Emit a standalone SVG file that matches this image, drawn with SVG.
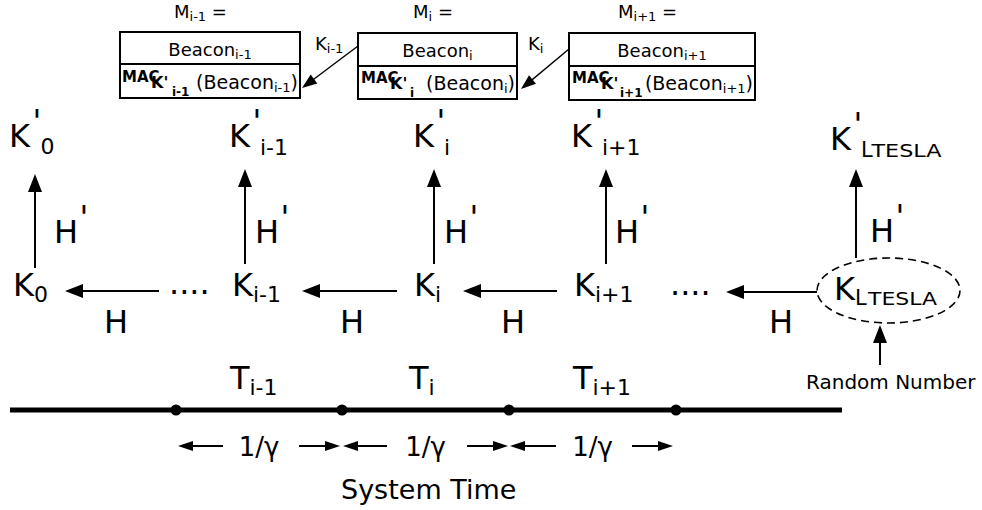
<svg xmlns="http://www.w3.org/2000/svg" width="982" height="510" viewBox="0 0 982 510">
<defs>
<style>
text{font-family:"DejaVu Sans","Liberation Sans",sans-serif;fill:#000}
.big{font-size:32px}
.sub{font-size:22px}
.med{font-size:18px}
.mb{font-size:19px}
.msub{font-size:13px}
.mac{font-weight:bold}
.box{fill:#fff;stroke:#000;stroke-width:2}
.div{stroke:#000;stroke-width:2}
.ln{stroke:#000;stroke-width:2;fill:none}
.thin{stroke:#000;stroke-width:1.4;fill:none}
.dash{fill:none;stroke:#000;stroke-width:1.6;stroke-dasharray:8 5}
</style>
<marker id="ah" markerUnits="userSpaceOnUse" markerWidth="18" markerHeight="14" refX="14" refY="7" orient="auto" overflow="visible"><path d="M0,0 L18,7 L0,14 Z" fill="#000"/></marker>
<marker id="am" markerUnits="userSpaceOnUse" markerWidth="15" markerHeight="11" refX="12" refY="5.5" orient="auto" overflow="visible"><path d="M0,0 L15,5.5 L0,11 Z" fill="#000"/></marker>
<marker id="as" markerUnits="userSpaceOnUse" markerWidth="15" markerHeight="10" refX="12" refY="5" orient="auto" overflow="visible"><path d="M0,0 L15,5 L0,10 Z" fill="#000"/></marker>
</defs>
<rect x="0" y="0" width="982" height="510" fill="#fff"/>

<!-- Message boxes -->
<g id="msg-prev">
<text class="med" x="174" y="18">M<tspan class="msub" dy="3">i-1</tspan><tspan dy="-3"> =</tspan></text>
<rect class="box" x="120" y="32" width="180" height="66"/>
<line class="div" x1="120" y1="64" x2="300" y2="64"/>
<text class="med" x="210" y="56" text-anchor="middle">Beacon<tspan class="msub" dy="3">i-1</tspan></text>
<text class="mac"><tspan x="122" y="82" style="font-size:15px">MAC</tspan><tspan x="151" y="88" style="font-size:16px">K'</tspan><tspan x="172" y="96" style="font-size:12px">i-1</tspan></text>
<text class="mb" x="298" y="89" text-anchor="end">(Beacon<tspan class="msub" dy="3">i-1</tspan><tspan dy="-3">)</tspan></text>
</g>
<g id="msg-cur">
<text class="med" x="413" y="18">M<tspan class="msub" dy="3">i</tspan><tspan dy="-3"> =</tspan></text>
<rect class="box" x="358" y="33" width="159" height="66"/>
<line class="div" x1="358" y1="66" x2="517" y2="66"/>
<text class="med" x="437.5" y="57" text-anchor="middle">Beacon<tspan class="msub" dy="3">i</tspan></text>
<text class="mac"><tspan x="361" y="83" style="font-size:15px">MAC</tspan><tspan x="390" y="89" style="font-size:16px">K'</tspan><tspan x="410" y="97" style="font-size:12px">i</tspan></text>
<text class="mb" x="515" y="90" text-anchor="end">(Beacon<tspan class="msub" dy="3">i</tspan><tspan dy="-3">)</tspan></text>
</g>
<g id="msg-next">
<text class="med" x="618" y="18">M<tspan class="msub" dy="3">i+1</tspan><tspan dy="-3"> =</tspan></text>
<rect class="box" x="569" y="33" width="186" height="67"/>
<line class="div" x1="569" y1="66" x2="755" y2="66"/>
<text class="med" x="662" y="57" text-anchor="middle">Beacon<tspan class="msub" dy="3">i+1</tspan></text>
<text class="mac"><tspan x="572" y="83" style="font-size:15px">MAC</tspan><tspan x="601" y="89" style="font-size:16px">K'</tspan><tspan x="620" y="97" style="font-size:12px">i+1</tspan></text>
<text class="mb" x="753" y="90" text-anchor="end">(Beacon<tspan class="msub" dy="3">i+1</tspan><tspan dy="-3">)</tspan></text>
</g>

<!-- Upper keys K' -->
<g id="kp-0"><text><tspan class="big" x="9" y="147">K</tspan><tspan class="big" x="32.6" y="131.5">'</tspan><tspan class="sub" x="40.5" y="154">0</tspan></text></g>
<g id="kp-im1"><text><tspan class="big" x="229" y="147">K</tspan><tspan class="big" x="252.6" y="131.5">'</tspan><tspan class="sub" x="260" y="155">i-1</tspan></text></g>
<g id="kp-i"><text><tspan class="big" x="413" y="147">K</tspan><tspan class="big" x="436.6" y="131.5">'</tspan><tspan class="sub" x="444" y="155">i</tspan></text></g>
<g id="kp-ip1"><text><tspan class="big" x="571" y="147">K</tspan><tspan class="big" x="594.6" y="131.5">'</tspan><tspan class="sub" x="602" y="155">i+1</tspan></text></g>
<g id="kp-L"><text><tspan class="big" x="830" y="150">K</tspan><tspan class="big" x="853.6" y="134.5">'</tspan><tspan style="font-size:21px" x="861" y="157">L</tspan><tspan style="font-size:17px" x="871.5" y="157" textLength="70" lengthAdjust="spacingAndGlyphs">TESLA</tspan></text></g>

<!-- Lower keys K -->
<g id="k-0"><text><tspan class="big" x="13" y="296">K</tspan><tspan class="sub" x="34" y="302">0</tspan></text></g>
<g id="dots-1"><text class="big" x="169" y="293.5">....</text></g>
<g id="k-im1"><text><tspan class="big" x="232" y="296">K</tspan><tspan class="sub" x="253" y="302">i-1</tspan></text></g>
<g id="k-i"><text><tspan class="big" x="414" y="296">K</tspan><tspan class="sub" x="435" y="302">i</tspan></text></g>
<g id="k-ip1"><text><tspan class="big" x="574" y="296">K</tspan><tspan class="sub" x="595" y="302">i+1</tspan></text></g>
<g id="dots-2"><text class="big" x="670" y="295">....</text></g>
<g id="k-L">
<ellipse class="dash" cx="888.5" cy="290.5" rx="71.5" ry="32.5"/>
<text><tspan class="big" x="834" y="300">K</tspan><tspan style="font-size:21px" x="855" y="305">L</tspan><tspan style="font-size:17px" x="868" y="305" textLength="69" lengthAdjust="spacingAndGlyphs">TESLA</tspan></text>
</g>
<g id="random"><text style="font-size:20px" x="806" y="389">Random Number</text></g>

<!-- Connectors -->
<g id="connectors">
<line class="thin" x1="358" y1="46" x2="304.4" y2="86.2" marker-end="url(#am)"/>
<line class="thin" x1="569" y1="49" x2="523.3" y2="87.1" marker-end="url(#am)"/>
<line class="ln" x1="35" y1="268" x2="35" y2="178" marker-end="url(#ah)"/>
<line class="ln" x1="245" y1="264" x2="245" y2="173" marker-end="url(#ah)"/>
<line class="ln" x1="434" y1="264" x2="434" y2="173" marker-end="url(#ah)"/>
<line class="ln" x1="606" y1="264" x2="606" y2="173" marker-end="url(#ah)"/>
<line class="ln" x1="856" y1="258" x2="856" y2="173" marker-end="url(#ah)"/>
<line class="ln" x1="159" y1="291" x2="69" y2="291" marker-end="url(#ah)"/>
<line class="ln" x1="397" y1="291" x2="306" y2="291" marker-end="url(#ah)"/>
<line class="ln" x1="557" y1="291" x2="467" y2="291" marker-end="url(#ah)"/>
<line class="ln" x1="817" y1="292" x2="730" y2="292" marker-end="url(#ah)"/>
<line class="ln" x1="880" y1="365" x2="880" y2="329" marker-end="url(#ah)"/>
</g>

<!-- Connector labels -->
<g id="labels">
<text class="med" x="315" y="50">K<tspan class="msub" dy="3">i-1</tspan></text>
<text class="med" x="528" y="50">K<tspan class="msub" dy="3">i</tspan></text>
<text><tspan class="big" x="54" y="243">H</tspan><tspan class="big" x="79.6" y="228">'</tspan></text>
<text><tspan class="big" x="255" y="243">H</tspan><tspan class="big" x="280.6" y="228">'</tspan></text>
<text><tspan class="big" x="444" y="243">H</tspan><tspan class="big" x="469.6" y="228">'</tspan></text>
<text><tspan class="big" x="615" y="243">H</tspan><tspan class="big" x="640.6" y="228">'</tspan></text>
<text><tspan class="big" x="870" y="242">H</tspan><tspan class="big" x="895.6" y="227">'</tspan></text>
<text class="big" x="104" y="333">H</text>
<text class="big" x="340" y="333">H</text>
<text class="big" x="501" y="333">H</text>
<text class="big" x="769" y="333">H</text>
</g>

<!-- Timeline -->
<g id="timeline">
<line x1="10" y1="410" x2="842" y2="410" stroke="#000" stroke-width="5"/>
<circle cx="176" cy="410" r="5.5"/>
<circle cx="342" cy="410" r="5.5"/>
<circle cx="509" cy="410" r="5.5"/>
<circle cx="676" cy="410" r="5.5"/>
<text><tspan class="big" x="230" y="389">T</tspan><tspan class="sub" x="249.5" y="395">i-1</tspan></text>
<text><tspan class="big" x="409" y="389">T</tspan><tspan class="sub" x="428.5" y="395">i</tspan></text>
<text><tspan class="big" x="573" y="389">T</tspan><tspan class="sub" x="592.5" y="395">i+1</tspan></text>
<text style="font-size:26px" x="259" y="456" text-anchor="middle">1/γ</text>
<text style="font-size:26px" x="425.5" y="456" text-anchor="middle">1/γ</text>
<text style="font-size:26px" x="592.5" y="456" text-anchor="middle">1/γ</text>
<line class="ln" x1="223" y1="446" x2="181" y2="446" marker-end="url(#as)"/>
<line class="ln" x1="299" y1="446" x2="337" y2="446" marker-end="url(#as)"/>
<line class="ln" x1="387" y1="446" x2="346" y2="446" marker-end="url(#as)"/>
<line class="ln" x1="467" y1="446" x2="505" y2="446" marker-end="url(#as)"/>
<line class="ln" x1="556" y1="446" x2="513" y2="446" marker-end="url(#as)"/>
<line class="ln" x1="632" y1="446" x2="670" y2="446" marker-end="url(#as)"/>
<text style="font-size:27px" x="341" y="499">System Time</text>
</g>
</svg>
